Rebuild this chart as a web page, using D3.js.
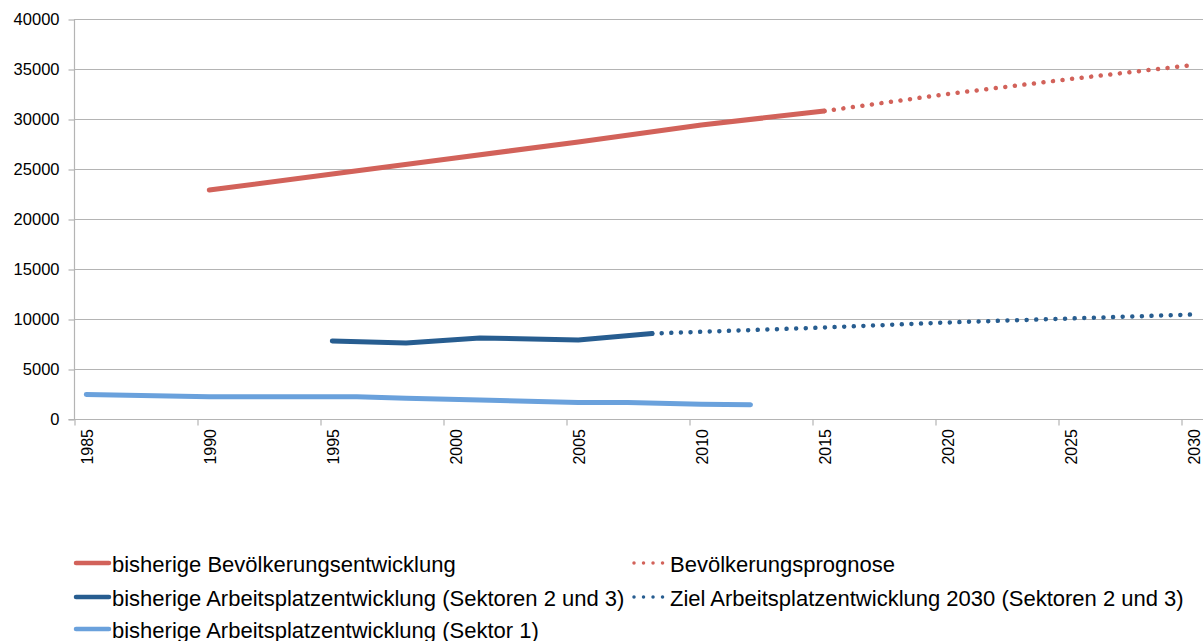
<!DOCTYPE html>
<html>
<head>
<meta charset="utf-8">
<script src="https://cdn.jsdelivr.net/npm/d3@7"></script>
<style>
  html, body { margin: 0; padding: 0; background: #fff; }
  svg { display: block; font-family: "Liberation Sans", Arial, Helvetica, sans-serif; }
</style>
</head>
<body>
<svg id="chart" width="1203" height="641"></svg>
<script>
// ---- data ----
const tickYears = [1985, 1990, 1995, 2000, 2005, 2010, 2015, 2020, 2025, 2030];
const yTicks = [0, 5000, 10000, 15000, 20000, 25000, 30000, 35000, 40000];

const popYears = [1990, 1995, 2000, 2005, 2010, 2015];
const popValues = [22900, 24500, 26100, 27700, 29400, 30800];

const popForecastYears = [2015, 2020, 2025, 2030];
const popForecastValues = [30800, 32500, 34000, 35400];

const jobsYears = [1995, 1998, 2001, 2005, 2008];
const jobsValues = [7800, 7600, 8100, 7900, 8550];

const jobsTargetYears = [2008, 2015, 2020, 2025, 2030];
const jobsTargetValues = [8550, 9150, 9650, 10050, 10450];

const sector1Years = [1985, 1990, 1996, 1998, 2001, 2005, 2007, 2010, 2012];
const sector1Values = [2450, 2230, 2230, 2070, 1900, 1650, 1650, 1480, 1420];

const legendLabels = [
  "bisherige Bevölkerungsentwicklung",
  "Bevölkerungsprognose",
  "bisherige Arbeitsplatzentwicklung (Sektoren 2 und 3)",
  "Ziel Arbeitsplatzentwicklung 2030 (Sektoren 2 und 3)",
  "bisherige Arbeitsplatzentwicklung (Sektor 1)"
];

// ---- styles ----
const RED = "#d2625a", DARK = "#275d90", LIGHT = "#6aa1dc", GRID = "#b4b4b4";

const svg = d3.select("#chart");
const x = d3.scaleLinear().domain([1985, 2031]).range([74, 74 + 46 * 24.6]);
const y = d3.scaleLinear().domain([0, 40000]).range([419, 19]);

// gridlines
svg.append("g").selectAll("line").data(yTicks.filter(d => d > 0)).join("line")
  .attr("x1", 74).attr("x2", 1203)
  .attr("y1", d => y(d) + 0.5).attr("y2", d => y(d) + 0.5)
  .attr("stroke", GRID).attr("stroke-width", 1.2);

// y axis
const yAxis = svg.append("g").attr("transform", "translate(74.5,0.5)")
  .call(d3.axisLeft(y).tickValues(yTicks).tickSize(6).tickPadding(9).tickFormat(d3.format("d")));
yAxis.select(".domain").attr("stroke", GRID).attr("stroke-width", 1.2).attr("d", `M0,${y(40000)}V${y(0)}`);
yAxis.selectAll(".tick line").attr("stroke", GRID).attr("stroke-width", 1.2);
yAxis.selectAll("text").attr("font-size", 16.5).attr("fill", "#000")
  .attr("font-family", "'Liberation Sans', Arial, sans-serif");

// x axis
const xAxis = svg.append("g").attr("transform", `translate(0.5,${y(0) + 0.5})`)
  .call(d3.axisBottom(x).tickValues(tickYears).tickSize(6).tickFormat(""));
xAxis.select(".domain").attr("stroke", GRID).attr("stroke-width", 1.2).attr("d", `M68,0H1203`);
xAxis.selectAll(".tick line").attr("stroke", GRID).attr("stroke-width", 1.2);

svg.append("g").selectAll("text").data(tickYears).join("text")
  .attr("transform", d => `translate(${x(d + 0.5) + 1},429) rotate(-90)`)
  .attr("text-anchor", "end").attr("dominant-baseline", "central")
  .attr("font-size", 16).attr("fill", "#000")
  .text(d => d);

// lines
const line = d3.line().x(d => x(d[0] + 0.5)).y(d => y(d[1]));
const zip = (a, b) => a.map((v, i) => [v, b[i]]);

function drawLine(data, color, dotted) {
  const p = svg.append("path").attr("d", line(data))
    .attr("fill", "none").attr("stroke", color)
    .attr("stroke-linecap", "round").attr("stroke-linejoin", "round");
  if (dotted) p.attr("stroke-width", 4.5).attr("stroke-dasharray", "0.01 9.6");
  else p.attr("stroke-width", 5);
}

drawLine(zip(sector1Years, sector1Values), LIGHT, false);
drawLine(zip(jobsTargetYears, jobsTargetValues), DARK, true);
drawLine(zip(jobsYears, jobsValues), DARK, false);
drawLine(zip(popForecastYears, popForecastValues), RED, true);
drawLine(zip(popYears, popValues), RED, false);

// legend
const legendItems = [
  { label: legendLabels[0], color: RED, dotted: false, col: 0, row: 0 },
  { label: legendLabels[1], color: RED, dotted: true, col: 1, row: 0 },
  { label: legendLabels[2], color: DARK, dotted: false, col: 0, row: 1 },
  { label: legendLabels[3], color: DARK, dotted: true, col: 1, row: 1 },
  { label: legendLabels[4], color: LIGHT, dotted: false, col: 0, row: 2 }
];
const colX = [76, 634];
const rowY = [564, 598, 630];
const lg = svg.append("g").selectAll("g").data(legendItems).join("g")
  .attr("transform", d => `translate(${colX[d.col]},${rowY[d.row]})`);
lg.append("line").attr("x1", 0).attr("x2", 33).attr("y1", -1).attr("y2", -1)
  .attr("stroke", d => d.color).attr("stroke-linecap", "round")
  .attr("stroke-width", d => d.dotted ? 3.5 : 4.5)
  .attr("stroke-dasharray", d => d.dotted ? "0.01 9.5" : null);
lg.append("text").attr("x", 36).attr("y", 0).attr("dominant-baseline", "central")
  .attr("font-size", 22).attr("fill", "#000").text(d => d.label);
</script>
</body>
</html>
